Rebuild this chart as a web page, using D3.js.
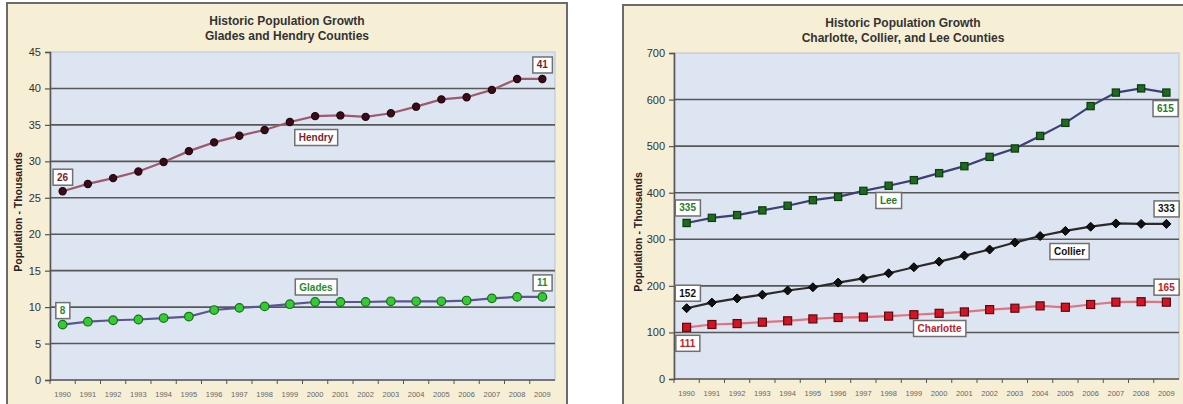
<!DOCTYPE html>
<html>
<head>
<meta charset="utf-8">
<script src="https://cdn.jsdelivr.net/npm/d3@7/dist/d3.min.js"></script>
<style>
  html, body { margin: 0; padding: 0; background: #ffffff; }
  svg { display: block; }
  text { font-family: "Liberation Sans", Arial, sans-serif; }
</style>
</head>
<body>
<svg id="chart" width="1183" height="404"></svg>
<script>
// Years on the horizontal axis (both panels)
const years = ["1990","1991","1992","1993","1994","1995","1996","1997","1998","1999",
               "2000","2001","2002","2003","2004","2005","2006","2007","2008","2009"];

// Population in thousands
const hendry    = [25.9, 26.9, 27.7, 28.6, 29.9, 31.4, 32.6, 33.5, 34.3, 35.4,
                   36.2, 36.3, 36.1, 36.6, 37.5, 38.5, 38.8, 39.8, 41.3, 41.3];
const glades    = [7.6, 8.0, 8.2, 8.3, 8.5, 8.7, 9.6, 9.9, 10.1, 10.4,
                   10.7, 10.7, 10.7, 10.8, 10.8, 10.8, 10.9, 11.2, 11.4, 11.4];
const lee       = [335, 346, 352, 362, 372, 384, 391, 404, 415, 427,
                   442, 457, 477, 495, 522, 550, 586, 615, 624, 615];
const collier   = [152, 164, 173, 181, 190, 197, 207, 216, 227, 240,
                   252, 265, 278, 293, 307, 318, 327, 334, 333, 333];
const charlotte = [111, 117, 119, 122, 125, 129, 132, 133, 135, 138,
                   141, 144, 149, 152, 157, 154, 160, 165, 166, 165];

// Axis ticks
const leftTicks  = [0, 5, 10, 15, 20, 25, 30, 35, 40, 45];
const rightTicks = [0, 100, 200, 300, 400, 500, 600, 700];

// Titles
const leftTitle  = ["Historic Population Growth", "Glades and Hendry Counties"];
const rightTitle = ["Historic Population Growth", "Charlotte, Collier, and Lee Counties"];
const yTitle = "Population - Thousands";

const svg = d3.select("#chart");

function panel(cfg) {
  const g = svg.append("g");

  // cream outer panel
  g.append("rect")
    .attr("x", cfg.panel[0]).attr("y", cfg.panel[1])
    .attr("width", cfg.panel[2]).attr("height", cfg.panel[3])
    .attr("fill", "#f7eed6").attr("stroke", "#6b6b6b").attr("stroke-width", 2);

  const x = d3.scaleBand().domain(years).range([cfg.plot.left, cfg.plot.right]);
  const y = d3.scaleLinear().domain([0, cfg.max]).range([cfg.plot.bottom, cfg.plot.top]);
  const cx = d => x(d) + x.bandwidth() / 2;

  // plot background
  g.append("rect")
    .attr("x", cfg.plot.left).attr("y", cfg.plot.top)
    .attr("width", cfg.plot.right - cfg.plot.left)
    .attr("height", cfg.plot.bottom - cfg.plot.top)
    .attr("fill", "#dce5f1").attr("stroke", "#b9c3d2").attr("stroke-width", 1);

  // gridlines
  g.append("g").selectAll("line")
    .data(cfg.ticks.filter(t => t > 0 && t < cfg.max))
    .join("line")
    .attr("x1", cfg.plot.left).attr("x2", cfg.plot.right)
    .attr("y1", d => y(d)).attr("y2", d => y(d))
    .attr("stroke", "#585858").attr("stroke-width", 1.6);

  // y axis
  const ya = g.append("g")
    .attr("transform", `translate(${cfg.plot.left},0)`)
    .call(d3.axisLeft(y).tickValues(cfg.ticks).tickSize(5).tickPadding(4));
  ya.select(".domain").attr("stroke", "#555").attr("stroke-width", 1.6);
  ya.selectAll(".tick line").attr("stroke", "#555").attr("stroke-width", 1.2);
  ya.selectAll(".tick text").attr("font-size", 11).attr("fill", "#333")
    .style("font-family", "'Liberation Sans', Arial, sans-serif");

  // x axis: ticks at category boundaries
  const xa = g.append("g").attr("transform", `translate(0,${cfg.plot.bottom})`);
  xa.append("line")
    .attr("x1", cfg.plot.left).attr("x2", cfg.plot.right)
    .attr("stroke", "#555").attr("stroke-width", 1.6);
  xa.selectAll("line.tk")
    .data(years)
    .join("line").attr("class", "tk")
    .attr("x1", d => x(d)).attr("x2", d => x(d))
    .attr("y1", 0).attr("y2", 4)
    .attr("stroke", "#555").attr("stroke-width", 1);
  xa.selectAll("text")
    .data(years)
    .join("text")
    .attr("x", d => cx(d)).attr("y", 17)
    .attr("text-anchor", "middle")
    .attr("font-size", 7.5).attr("fill", "#666")
    .text(d => d);

  // titles
  cfg.title.forEach((t, i) => {
    g.append("text")
      .attr("x", cfg.titleX).attr("y", cfg.titleY + i * 14.5)
      .attr("text-anchor", "middle")
      .attr("font-size", 12).attr("font-weight", "bold").attr("fill", "#333")
      .text(t);
  });
  g.append("text")
    .attr("transform", `translate(${cfg.yTitleX},${cfg.yTitleY}) rotate(-90)`)
    .attr("text-anchor", "middle")
    .attr("font-size", 10.5).attr("font-weight", "bold").attr("fill", "#222")
    .text(yTitle);

  // series
  cfg.series.forEach(s => {
    const line = d3.line().x((d, i) => cx(years[i])).y(d => y(d));
    g.append("path").datum(s.values)
      .attr("d", line).attr("fill", "none")
      .attr("stroke", s.line).attr("stroke-width", 2.2);
    const m = g.append("g");
    s.values.forEach((v, i) => {
      const px = cx(years[i]), py = y(v);
      if (s.shape === "circle") {
        m.append("circle").attr("cx", px).attr("cy", py).attr("r", s.size)
          .attr("fill", s.fill).attr("stroke", s.stroke).attr("stroke-width", 1.2);
      } else if (s.shape === "square") {
        m.append("rect").attr("x", px - s.size).attr("y", py - s.size)
          .attr("width", 2 * s.size).attr("height", 2 * s.size)
          .attr("fill", s.fill).attr("stroke", s.stroke).attr("stroke-width", 1.2);
      } else {
        const r = s.size;
        m.append("path")
          .attr("d", `M${px},${py - r}L${px + r},${py}L${px},${py + r}L${px - r},${py}Z`)
          .attr("fill", s.fill).attr("stroke", s.stroke).attr("stroke-width", 1);
      }
    });
  });

  // boxed labels
  cfg.labels.forEach(l => {
    const lg = g.append("g");
    const t = lg.append("text")
      .attr("x", l.x).attr("y", l.y)
      .attr("text-anchor", "middle").attr("dominant-baseline", "central")
      .attr("font-size", l.fs || 10).attr("font-weight", "bold").attr("fill", l.color)
      .text(l.text);
    const b = t.node().getBBox();
    lg.insert("rect", "text")
      .attr("x", b.x - 4).attr("y", l.y - 8)
      .attr("width", b.width + 8).attr("height", 16)
      .attr("fill", "#fff").attr("stroke", "#707070").attr("stroke-width", 1.5);
  });

  return {x, y, cx};
}

// Left panel: Glades and Hendry
const L = {
  panel: [7, 3, 560, 410],
  plot: {left: 50, right: 555, top: 52, bottom: 380},
  max: 45, ticks: leftTicks,
  title: leftTitle, titleX: 287, titleY: 25,
  yTitleX: 22, yTitleY: 212,
  series: [
    {values: hendry, line: "#9c5a6c", shape: "circle", size: 3.6, fill: "#3a0c18", stroke: "#24060e"},
    {values: glades, line: "#5a5690", shape: "circle", size: 4.3, fill: "#33cc33", stroke: "#1d6e1d"}
  ],
  labels: []
};
{
  const xs = d3.scaleBand().domain(years).range([L.plot.left, L.plot.right]);
  const ys = d3.scaleLinear().domain([0, L.max]).range([L.plot.bottom, L.plot.top]);
  const c = d => xs(d) + xs.bandwidth() / 2;
  L.labels = [
    {text: String(Math.round(hendry[0])), x: c(years[0]), y: ys(hendry[0]) - 14, color: "#7a1f2e"},
    {text: String(Math.round(hendry[19])), x: c(years[19]), y: ys(hendry[19]) - 14, color: "#7a1f2e"},
    {text: "Hendry", x: 316, y: 137.5, color: "#7a1f2e"},
    {text: String(Math.round(glades[0])), x: c(years[0]), y: ys(glades[0]) - 14, color: "#2a8a2a"},
    {text: String(Math.round(glades[19])), x: c(years[19]), y: ys(glades[19]) - 14, color: "#2a8a2a"},
    {text: "Glades", x: 316, y: 287, color: "#2a8a2a"}
  ];
}
panel(L);

// Right panel: Charlotte, Collier and Lee
const R = {
  panel: [623, 5, 570, 410],
  plot: {left: 674, right: 1179, top: 53, bottom: 379},
  max: 700, ticks: rightTicks,
  title: rightTitle, titleX: 903, titleY: 27,
  yTitleX: 642, yTitleY: 232,
  series: [
    {values: lee, line: "#3d3f75", shape: "square", size: 3.6, fill: "#1e6a1e", stroke: "#0f3a0f"},
    {values: collier, line: "#2a2a2a", shape: "diamond", size: 4.5, fill: "#111", stroke: "#000"},
    {values: charlotte, line: "#e07480", shape: "square", size: 4, fill: "#d41424", stroke: "#5a0a10"}
  ],
  labels: []
};
{
  const xs = d3.scaleBand().domain(years).range([R.plot.left, R.plot.right]);
  const ys = d3.scaleLinear().domain([0, R.max]).range([R.plot.bottom, R.plot.top]);
  const c = d => xs(d) + xs.bandwidth() / 2;
  R.labels = [
    {text: String(lee[0]), x: c(years[0]) + 1, y: ys(lee[0]) - 15, color: "#2a7a2a"},
    {text: String(lee[19]), x: c(years[19]) - 1, y: ys(lee[19]) + 16, color: "#2a7a2a"},
    {text: "Lee", x: 888.5, y: 200.5, color: "#2a7a2a"},
    {text: String(collier[0]), x: c(years[0]) + 1, y: ys(collier[0]) - 15, color: "#111"},
    {text: String(collier[19]), x: c(years[19]), y: ys(collier[19]) - 15, color: "#111"},
    {text: "Collier", x: 1069.5, y: 251.5, color: "#111"},
    {text: String(charlotte[0]), x: c(years[0]) + 1, y: ys(charlotte[0]) + 16, color: "#c0202c"},
    {text: String(charlotte[19]), x: c(years[19]), y: ys(charlotte[19]) - 15, color: "#c0202c"},
    {text: "Charlotte", x: 939.5, y: 328.5, color: "#c0202c"}
  ];
}
panel(R);
</script>
</body>
</html>
